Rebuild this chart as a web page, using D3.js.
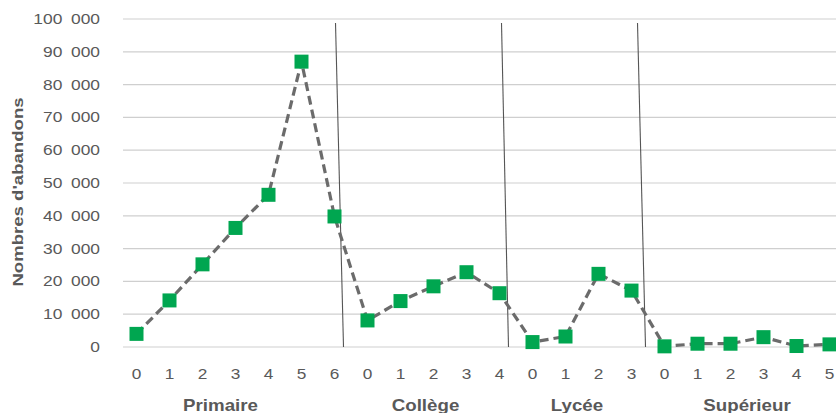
<!DOCTYPE html>
<html>
<head>
<meta charset="utf-8">
<script src="https://cdn.jsdelivr.net/npm/d3@7"></script>
<style>
  body { margin: 0; background: #fff; }
  svg text { font-family: "Liberation Sans", Arial, sans-serif; fill: #595959; }
</style>
</head>
<body>
<div id="chart"></div>
<script>
// groups and their sub-categories (years)
const groups = ["Primaire", "Collège", "Lycée", "Supérieur"];
const groupYears = [
  ["0", "1", "2", "3", "4", "5", "6"],
  ["0", "1", "2", "3", "4"],
  ["0", "1", "2", "3"],
  ["0", "1", "2", "3", "4", "5"]
];
const abandons = [
  4000, 14200, 25200, 36300, 46400, 87000, 39800,
  8100, 14000, 18500, 22800, 16400,
  1500, 3200, 22300, 17200,
  200, 1000, 1000, 3000, 300, 800
];
const yTicks = [0, 10000, 20000, 30000, 40000, 50000, 60000, 70000, 80000, 90000, 100000];

const width = 836, height = 413;
const margin = { top: 19, right: -10, bottom: 66, left: 120 };
const sx = 1.2; // text in the original is a bit wider than Liberation Sans

const svg = d3.select("#chart").append("svg")
  .attr("width", width)
  .attr("height", height);

// flatten categories
const cats = [];
groupYears.forEach((ys, gi) => ys.forEach(y => cats.push({ key: gi + "-" + y, label: y, group: gi })));
cats.forEach((c, i) => c.value = abandons[i]);

const x = d3.scaleBand()
  .domain(cats.map(c => c.key))
  .range([margin.left, width - margin.right]);

const y = d3.scaleLinear()
  .domain([0, 100000])
  .range([height - margin.bottom, margin.top]);

const fr = d3.formatLocale({ decimal: ",", thousands: "\u2002", grouping: [3], currency: ["", " €"] });
const fmt = fr.format(",d");

// gridlines
svg.append("g")
  .selectAll("line")
  .data(yTicks)
  .join("line")
  .attr("x1", margin.left + 3)
  .attr("x2", width)
  .attr("y1", d => y(d))
  .attr("y2", d => y(d))
  .attr("stroke", "#cfcfcf")
  .attr("stroke-width", 1.2);

// y labels
svg.append("g")
  .selectAll("text")
  .data(yTicks)
  .join("text")
  .attr("transform", d => `translate(100,${y(d)}) scale(${sx},1)`)
  .attr("dy", "0.35em")
  .attr("text-anchor", "end")
  .style("font-size", "14.5px")
  .text(d => fmt(d));

// y title
svg.append("text")
  .attr("transform", `translate(23,${(y(0) + y(100000)) / 2 + 9}) rotate(-90) scale(1.24,1)`)
  .attr("text-anchor", "middle")
  .style("font-size", "15px")
  .style("font-weight", "bold")
  .text("Nombres d'abandons");

// separators between groups (slanted thin lines like the original)
let idx = 0;
const sepIdx = [];
groupYears.forEach((ys, gi) => { idx += ys.length; if (gi < groupYears.length - 1) sepIdx.push(idx - 1); });
svg.append("g")
  .selectAll("line")
  .data(sepIdx)
  .join("line")
  .attr("x1", (d, i) => x(cats[d].key) + x.bandwidth() / 2 + [1, 2, 6][i])
  .attr("x2", (d, i) => x(cats[d].key) + x.bandwidth() / 2 + [9, 9, 14][i])
  .attr("y1", y(0) - 324)
  .attr("y2", y(0))
  .attr("stroke", "#555")
  .attr("stroke-width", 1.1);

// line
const line = d3.line()
  .x(d => x(d.key) + x.bandwidth() / 2)
  .y(d => y(d.value));

svg.append("path")
  .datum(cats)
  .attr("d", line)
  .attr("fill", "none")
  .attr("stroke", "#6b6b6b")
  .attr("stroke-width", 3.2)
  .attr("stroke-dasharray", "9,5");

// markers
const ms = 14;
svg.append("g")
  .selectAll("rect")
  .data(cats)
  .join("rect")
  .attr("x", d => x(d.key) + x.bandwidth() / 2 - ms / 2)
  .attr("y", d => y(d.value) - ms / 2)
  .attr("width", ms)
  .attr("height", ms)
  .attr("fill", "#00a650");

// year tick labels
svg.append("g")
  .selectAll("text")
  .data(cats)
  .join("text")
  .attr("transform", d => `translate(${x(d.key) + x.bandwidth() / 2},374) scale(1.15,1)`)
  .attr("dy", "0.35em")
  .attr("text-anchor", "middle")
  .style("font-size", "15px")
  .text(d => d.label);

// group labels
let start = 0;
const groupPos = groupYears.map(ys => {
  const a = cats[start], b = cats[start + ys.length - 1];
  start += ys.length;
  return (x(a.key) + x(b.key) + x.bandwidth()) / 2;
});
svg.append("g")
  .selectAll("text")
  .data(groups)
  .join("text")
  .attr("transform", (d, i) => `translate(${groupPos[i] - [15, 8, 5, 0][i]},405) scale(1.17,1)`)
  .attr("dy", "0.35em")
  .attr("text-anchor", "middle")
  .style("font-size", "16px")
  .style("font-weight", "bold")
  .text(d => d);
</script>
</body>
</html>
